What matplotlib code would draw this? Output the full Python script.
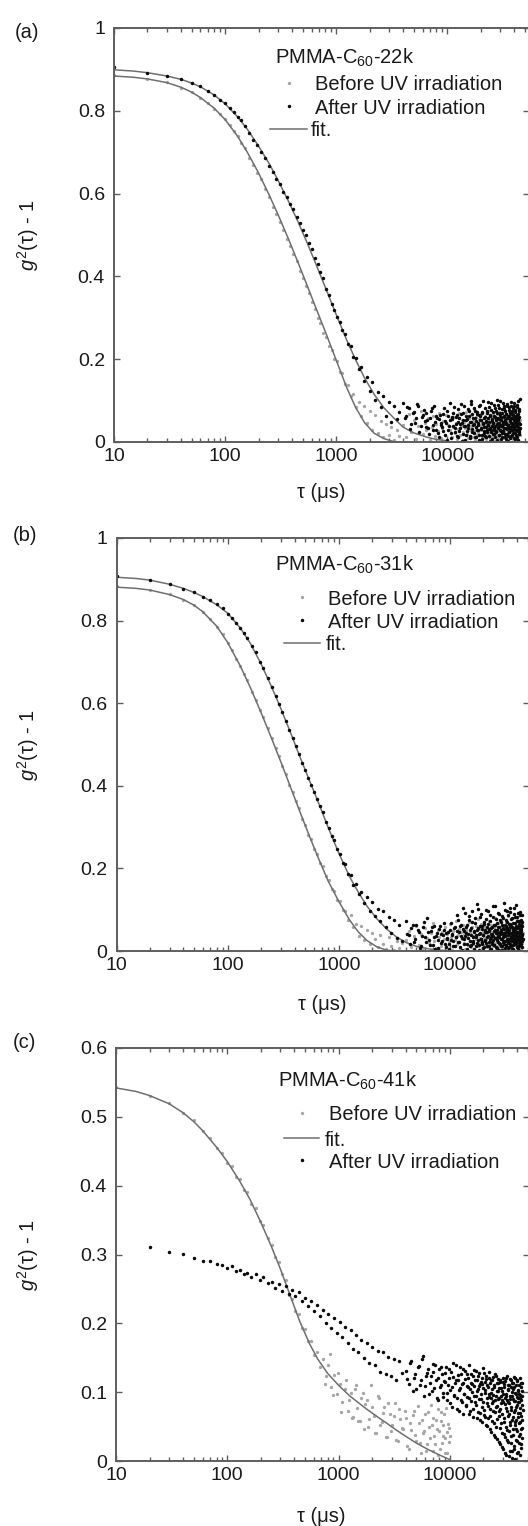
import matplotlib
matplotlib.use('Agg')
import matplotlib.pyplot as plt
from matplotlib.lines import Line2D
from matplotlib.ticker import LogLocator, NullFormatter

plt.rcParams['font.family'] = ['Liberation Sans', 'DejaVu Sans']
plt.rcParams['mathtext.fontset'] = 'custom'
plt.rcParams['mathtext.rm'] = 'Liberation Sans'
plt.rcParams['mathtext.it'] = 'Liberation Sans:italic'

# ---------------- data (delay time in microseconds, g2-1 in thousandths) -------------
TAU_SHORT = [10, 20, 30, 40, 50, 60, 70, 80, 90, 100,
             110, 120, 130, 140, 150, 165, 180, 195, 210, 230,
             250, 270, 290, 310, 335, 360, 385, 410, 440, 470,
             500, 530, 565, 600, 640, 680, 720, 765, 810, 860,
             910, 965, 1020, 1080, 1140, 1210, 1280, 1350, 1430, 1510,
             1600, 1690, 1790, 1890, 2000, 2120, 2240, 2370, 2510, 2650,
             2800, 2960, 3130, 3310, 3500, 3700]
TAU_LONG = [4000, 4250, 4500, 4750, 5000, 5250, 5500, 5750, 6000, 6250,
            6500, 6750, 7000, 7250, 7500, 7750, 8000, 8250, 8500, 8750,
            9000, 9250, 9500, 9750, 10000, 10250, 10500, 10750, 11000, 11250,
            11500, 11750, 12000, 12250, 12500, 12750, 13000, 13250, 13500, 13750,
            14000, 14250, 14500, 14750, 15000, 15250, 15500, 15750, 16000, 16250,
            16500, 16750, 17000, 17250, 17500, 17750, 18000, 18250, 18500, 18750,
            19000, 19250, 19500, 19750, 20000, 20250, 20500, 20750, 21000, 21250,
            21500, 21750, 22000, 22250, 22500, 22750, 23000, 23250, 23500, 23750,
            24000, 24250, 24500, 24750, 25000, 25250, 25500, 25750, 26000, 26250,
            26500, 26750, 27000, 27250, 27500, 27750, 28000, 28250, 28500, 28750,
            29000, 29250, 29500, 29750, 30000, 30250, 30500, 30750, 31000, 31250,
            31500, 31750, 32000, 32250, 32500, 32750, 33000, 33250, 33500, 33750,
            34000, 34250, 34500, 34750, 35000, 35250, 35500, 35750, 36000, 36250,
            36500, 36750, 37000, 37250, 37500, 37750, 38000, 38250, 38500, 38750,
            39000, 39250, 39500, 39750, 40000, 40250, 40500, 40750, 41000, 41250,
            41500, 41750, 42000, 42250, 42500, 42750, 43000, 43250, 43500, 43750,
            44000, 44250, 44500, 44750, 45000]
TAU_LONG2 = [4125, 4375, 4625, 4875, 5125, 5375, 5625, 5875, 6125, 6375,
             6625, 6875, 7125, 7375, 7625, 7875, 8125, 8375, 8625, 8875,
             9125, 9375, 9625, 9875, 10125, 10375, 10625, 10875, 11125, 11375,
             11625, 11875, 12125, 12375, 12625, 12875, 13125, 13375, 13625, 13875,
             14125, 14375, 14625, 14875, 15125, 15375, 15625, 15875, 16125, 16375,
             16625, 16875, 17125, 17375, 17625, 17875, 18125, 18375, 18625, 18875,
             19125, 19375, 19625, 19875, 20125, 20375, 20625, 20875, 21125, 21375,
             21625, 21875, 22125, 22375, 22625, 22875, 23125, 23375, 23625, 23875,
             24125, 24375, 24625, 24875, 25125, 25375, 25625, 25875, 26125, 26375,
             26625, 26875, 27125, 27375, 27625, 27875, 28125, 28375, 28625, 28875,
             29125, 29375, 29625, 29875, 30125, 30375, 30625, 30875, 31125, 31375,
             31625, 31875, 32125, 32375, 32625, 32875, 33125, 33375, 33625, 33875,
             34125, 34375, 34625, 34875, 35125, 35375, 35625, 35875, 36125, 36375,
             36625, 36875, 37125, 37375, 37625, 37875, 38125, 38375, 38625, 38875,
             39125, 39375, 39625, 39875, 40125, 40375, 40625, 40875, 41125, 41375,
             41625, 41875, 42125, 42375, 42625, 42875, 43125, 43375, 43625, 43875,
             44125, 44375, 44625, 44875]
TAU_CLOUD = [750, 830, 900, 990, 1060, 1170, 1250, 1320, 1400, 1470,
             1560, 1650, 1740, 1840, 1950, 2060, 2180, 2300, 2440, 2580,
             2730, 2880, 3050, 3220, 3400, 3600, 3800, 3950, 4120, 4380,
             4620, 4860, 5120, 5380, 5640, 5880, 6120, 6380, 6620, 6880,
             7120, 7380, 7620, 7880, 8120, 8380, 8620, 8880, 9120, 9380,
             9620, 9880]

# (a) PMMA-C60-22k
A_BEFORE_SHORT = [886, 877, 869, 856, 846, 831, 819, 804, 793, 779,
                  766, 750, 739, 722, 710, 687, 670, 650, 635, 611,
                  591, 568, 550, 531, 512, 491, 474, 455, 436, 414,
                  397, 376, 359, 337, 321, 299, 287, 264, 254, 231,
                  222, 201, 195, 170, 166, 141, 138, 112, 115, 84,
                  96, 62, 88, 47, 74, 30, 66, 22, 51, 12,
                  43, 18, 37, 6, 29, 14]
A_BEFORE_LONG = [42, 11, 67, 25, 53, 8, 38, 74, 19, 47,
                 30, 58, 5, 36, 62, 14, 44, 27, 71, 9,
                 33, 50, 18, 65, 3, 41, 28, 56, 12, 37,
                 60, 22, 45, 7, 31, 69, 16, 39, 52, 24,
                 4, 48, 35, 73, 20, 43, 10, 57, 29, 66,
                 38, 13, 51, 26, 79, 6, 34, 61, 17, 46,
                 23, 55, 2, 40, 68, 30, 49, 15, 37, 58,
                 11, 63, 27, 44, 8, 52, 33, 76, 19, 41,
                 54, 25, 9, 47, 36, 64, 14, 39, 70, 21,
                 45, 3, 59, 31, 18, 50, 28, 67, 12, 42,
                 26, 72, 35, 6, 53, 40, 16, 61, 32, 48,
                 10, 37, 57, 22, 44, 84, 29, 13, 51, 34,
                 65, 20, 41, 5, 58, 36, 27, 49, 74, 15,
                 39, 62, 24, 46, 9, 55, 31, 70, 18, 43,
                 28, 7, 52, 37, 66, 21, 45, 13, 60, 33,
                 50, 26, 78, 14, 40, 57, 4, 35, 47, 23,
                 61, 30, 44, 17, 53]
A_AFTER_SHORT = [906, 892, 885, 877, 868, 860, 848, 839, 827, 819,
                 807, 798, 786, 777, 763, 747, 730, 717, 700, 686,
                 667, 653, 635, 622, 605, 592, 575, 564, 544, 529,
                 513, 499, 480, 466, 444, 430, 411, 395, 370, 355,
                 333, 320, 302, 291, 270, 260, 236, 231, 205, 203,
                 176, 180, 148, 157, 124, 145, 102, 121, 84, 112,
                 62, 97, 48, 88, 55, 73]
A_AFTER_LONG = [95, 62, 81, 44, 73, 58, 88, 39, 66, 51,
                70, 34, 57, 82, 28, 49, 63, 21, 55, 41,
                36, 68, 17, 47, 74, 30, 52, 9, 61, 38,
                85, 24, 43, 66, 12, 57, 33, 92, 46, 19,
                71, 38, 5, 54, 27, 80, 41, 63, 15, 49,
                98, 32, 58, 22, 44, 76, 11, 51, 67, 29,
                40, 87, 18, 62, 35, 53, 7, 72, 45, 26,
                59, 14, 83, 37, 50, 23, 69, 42, 96, 31,
                48, 3, 64, 28, 77, 39, 56, 20, 45, 89,
                34, 61, 13, 52, 74, 25, 43, 102, 37, 58,
                16, 47, 81, 30, 65, 8, 54, 39, 71, 22,
                93, 44, 27, 60, 35, 79, 12, 50, 68, 33,
                46, 88, 19, 57, 41, 2, 63, 36, 84, 25,
                53, 70, 31, 45, 97, 15, 59, 38, 74, 28,
                42, 65, 10, 55, 86, 34, 48, 21, 77, 40,
                62, 18, 51, 90, 29, 44, 67, 6, 56, 37,
                80, 24, 47, 105, 33]
A_AFTER_LONG2 = [58, 84, 31, 69, 47, 92, 25, 61, 78, 36,
                 53, 19, 74, 42, 88, 30, 57, 12, 66, 45,
                 27, 81, 50, 6, 63, 38, 95, 22, 55, 71,
                 34, 60, 15, 48, 79, 26, 44, 68, 3, 52,
                 87, 39, 64, 18, 56, 33, 75, 9, 49, 91,
                 24, 67, 41, 83, 13, 59, 36, 72, 28, 46,
                 65, 5, 54, 89, 32, 70, 17, 43, 100, 37,
                 21, 61, 48, 11, 76, 29, 57, 40, 85, 14,
                 66, 35, 94, 23, 51, 7, 73, 45, 30, 62,
                 19, 82, 39, 58, 26, 69, 4, 47, 90, 33,
                 55, 16, 71, 42, 99, 27, 60, 38, 12, 79,
                 49, 24, 64, 35, 86, 20, 53, 75, 8, 44,
                 68, 31, 92, 15, 57, 40, 77, 25, 63, 50,
                 10, 73, 36, 58, 29, 88, 46, 18, 67, 41,
                 81, 22, 54, 95, 34, 61, 7, 48, 72, 28,
                 56, 38, 85, 13, 65, 44, 27, 98, 52, 30,
                 74, 20, 60, 43]

# (b) PMMA-C60-31k
B_BEFORE_SHORT = [883, 873, 864, 850, 838, 820, 805, 785, 768, 746,
                  729, 707, 691, 671, 656, 628, 608, 583, 566, 539,
                  515, 492, 471, 448, 429, 401, 385, 362, 346, 320,
                  306, 282, 271, 247, 235, 212, 205, 181, 172, 150,
                  145, 124, 122, 99, 98, 76, 86, 58, 65, 37,
                  60, 26, 51, 17, 44, 30, 9, 38, 18, 5,
                  33, 12, 3, 25, 8, 19]
B_BEFORE_LONG = [26, 48, 9, 37, 61, 15, 42, 3, 55, 31,
                 19, 44, 68, 24, 7, 52, 35, 13, 47, 29,
                 58, 11, 40, 22, 65, 34, 2, 49, 27, 73,
                 16, 38, 54, 8, 45, 30, 62, 20, 41, 5,
                 51, 33, 14, 70, 25, 43, 10, 57, 36, 18,
                 46, 1, 60, 28, 39, 77, 12, 53, 32, 21,
                 66, 40, 7, 48, 24, 35, 59, 15, 44, 30,
                 9, 55, 37, 72, 18, 50, 26, 4, 63, 39,
                 29, 47, 13, 58, 34, 81, 20, 43, 6, 52,
                 38, 23, 69, 11, 45, 31, 56, 17, 75, 28,
                 42, 8, 53, 36, 64, 19, 48, 3, 40, 60,
                 25, 71, 14, 46, 33, 57, 10, 39, 84, 22,
                 50, 35, 6, 62, 27, 44, 18, 66, 31, 12,
                 54, 40, 79, 23, 47, 2, 59, 37, 15, 68,
                 32, 49, 20, 43, 74, 9, 56, 28, 45, 16,
                 61, 36, 11, 52, 24, 70, 41, 5, 48, 30,
                 57, 19, 65, 34, 43]
B_AFTER_SHORT = [909, 898, 889, 877, 869, 857, 850, 839, 830, 817,
                 807, 793, 783, 769, 759, 739, 723, 700, 685, 660,
                 639, 617, 598, 578, 558, 534, 516, 497, 476, 454,
                 439, 420, 403, 384, 368, 350, 336, 312, 298, 278,
                 268, 246, 236, 214, 210, 186, 183, 161, 163, 138,
                 144, 117, 131, 98, 118, 84, 101, 72, 96, 58,
                 83, 44, 76, 31, 64, 25]
B_AFTER_LONG = [72, 38, 55, 21, 64, 45, 12, 58, 33, 80,
                27, 49, 15, 61, 36, 7, 53, 42, 24, 67,
                18, 44, 30, 4, 51, 26, 39, 13, 57, 35,
                88, 22, 46, 9, 62, 31, 105, 17, 48, 37,
                59, 6, 41, 74, 25, 52, 14, 96, 34, 20,
                47, 69, 11, 38, 113, 27, 55, 3, 43, 82,
                30, 16, 60, 39, 8, 71, 24, 50, 99, 19,
                45, 33, 65, 12, 54, 28, 86, 40, 5, 57,
                23, 108, 36, 48, 15, 63, 31, 78, 10, 44,
                52, 26, 92, 37, 2, 58, 41, 18, 70, 29,
                47, 11, 85, 34, 55, 21, 116, 43, 7, 62,
                38, 25, 74, 14, 50, 97, 30, 46, 19, 66,
                9, 42, 57, 28, 103, 35, 13, 61, 40, 24,
                79, 48, 6, 53, 32, 90, 17, 45, 68, 27,
                39, 111, 22, 56, 12, 47, 83, 30, 4, 59,
                36, 72, 20, 44, 95, 15, 51, 33, 64, 26,
                48, 10, 87, 41, 29]
B_AFTER_LONG2 = [41, 18, 63, 29, 50, 8, 36, 71, 22, 47,
                 14, 58, 33, 5, 44, 26, 61, 19, 38, 52,
                 9, 31, 46, 16, 68, 40, 24, 55, 12, 35,
                 49, 75, 21, 60, 37, 2, 53, 28, 92, 43,
                 17, 64, 32, 85, 11, 56, 39, 70, 25, 48,
                 6, 79, 34, 51, 20, 102, 42, 15, 61, 30,
                 89, 23, 54, 38, 10, 66, 45, 27, 77, 13,
                 59, 36, 97, 21, 48, 4, 72, 33, 55, 18,
                 40, 83, 26, 63, 14, 50, 109, 31, 44, 7,
                 68, 22, 57, 35, 90, 19, 46, 74, 11, 52,
                 29, 62, 3, 41, 81, 25, 53, 16, 99, 37,
                 60, 12, 47, 71, 30, 56, 8, 86, 39, 24,
                 51, 94, 18, 65, 33, 44, 78, 6, 58, 27,
                 42, 15, 69, 36, 104, 23, 55, 31, 82, 48,
                 20, 60, 38, 9, 73, 45, 26, 93, 34, 57,
                 13, 66, 43, 87, 22, 50, 30, 76, 17, 54,
                 39, 70, 24, 61]

# (c) PMMA-C60-41k
C_BEFORE_SHORT = [544, 530, 520, 505, 495, 479, 469, 455, 448, 433,
                  428, 413, 409, 394, 391, 374, 367, 349, 343, 324,
                  314, 296, 289, 271, 263, 241, 236, 218, 213, 193,
                  192, 175, 174, 154, 158, 136, 148, 124, 139, 108,
                  125, 98, 112, 86, 104, 72, 99, 64, 110, 58,
                  92, 47, 88, 61, 79, 40, 95, 52, 70, 35,
                  84, 44, 66, 30, 75, 48]
C_BEFORE_LONG = [62, 18, 45, 73, 29, 55, 11, 40, 68, 24,
                 50, 82, 15, 37, 59, 8, 44, 71, 26, 53,
                 33, 77, 12, 48, 36]
C_BEFORE_CLOUD = [112, 155, 96, 128, 71, 118, 89, 62, 104, 77,
                  58, 99, 83, 49, 110, 66, 41, 91, 57, 78,
                  35, 69, 52, 84, 29, 61, 46, 73, 22, 55,
                  67, 38, 80, 26, 59, 44, 15, 71, 33, 52,
                  63, 24, 47, 76, 18, 58, 36, 69, 11, 42,
                  54, 28]
C_AFTER_SHORT = [311, 304, 301, 295, 291, 290, 286, 285, 281,
                 283, 276, 278, 271, 273, 268, 271, 263, 267, 258,
                 260, 252, 257, 247, 254, 242, 249, 240, 246, 233,
                 237, 225, 233, 218, 226, 210, 220, 201, 214, 193,
                 208, 186, 202, 180, 195, 171, 190, 163, 183, 158,
                 176, 150, 172, 142, 166, 139, 160, 130, 158, 126,
                 151, 124, 148, 118, 145, 128]
C_AFTER_LONG = [131, 112, 146, 120, 104, 138, 117, 152, 109, 128,
                97, 123, 141, 106, 118, 89, 134, 111, 126, 93,
                115, 137, 99, 121, 84, 130, 108, 142, 95, 117,
                76, 125, 103, 136, 88, 112, 69, 133, 98, 119,
                81, 127, 107, 92, 139, 73, 114, 100, 124, 64,
                109, 86, 131, 95, 118, 71, 104, 128, 59, 112,
                90, 121, 78, 106, 135, 67, 99, 115, 52, 124,
                84, 110, 63, 97, 129, 75, 46, 118, 92, 104,
                58, 122, 87, 38, 108, 71, 126, 95, 49, 113,
                80, 32, 101, 119, 66, 91, 24, 115, 76, 55,
                106, 41, 88, 120, 17, 97, 62, 112, 35, 83,
                116, 50, 9, 94, 72, 123, 28, 86, 105, 43,
                68, 111, 14, 90, 57, 118, 36, 79, 100, 4,
                95, 47, 114, 64, 22, 87, 108, 53, 74, 120,
                31, 98, 60, 82, 11, 117, 44, 92, 70, 103,
                26, 85, 110, 56, 39, 96, 77, 19, 113, 66,
                89, 48, 102, 33, 74]
C_AFTER_LONG2 = [119, 143, 101, 127, 136, 110, 148, 95, 124, 133,
                 114, 102, 129, 140, 92, 121, 107, 137, 99, 116,
                 128, 88, 110, 134, 103, 79, 122, 96, 113, 140,
                 91, 118, 72, 106, 127, 85, 114, 98, 131, 80,
                 109, 93, 120, 68, 104, 126, 87, 112, 76, 132,
                 95, 117, 82, 101, 62, 123, 90, 109, 70, 115,
                 98, 57, 112, 86, 128, 74, 103, 64, 119, 91,
                 51, 107, 80, 121, 93, 66, 113, 42, 99, 84,
                 117, 72, 96, 55, 110, 88, 35, 124, 79, 102,
                 61, 114, 90, 27, 106, 73, 118, 48, 95, 84,
                 20, 101, 69, 115, 86, 39, 108, 57, 92, 12,
                 98, 77, 121, 45, 89, 30, 111, 66, 103, 7,
                 84, 119, 52, 95, 26, 107, 74, 15, 113, 60,
                 90, 38, 105, 71, 122, 18, 87, 56, 99, 3,
                 78, 110, 46, 93, 29, 116, 64, 85, 13, 102,
                 55, 97, 36, 120, 70, 8, 91, 47, 108, 24,
                 82, 113, 59, 94]

# fitted curves
FIT_TAU = [10, 15, 20, 30, 40, 50, 60, 80, 100, 130, 160, 200, 250, 300, 370, 450,
           550, 650, 800, 1000, 1250, 1500, 1800, 2200, 2700, 3300, 4000, 5000, 6500,
           8000, 10000]
A_BEFORE_FIT = [884, 881, 877, 868, 857, 845, 832, 806, 779, 738, 698, 650, 596, 549,
                492, 436, 377, 327, 266, 198, 130, 83, 47, 21, 8, 1]
A_AFTER_FIT = [899, 896, 892, 884, 876, 867, 858, 838, 817, 785, 754, 715, 672, 632,
               583, 534, 480, 433, 373, 308, 245, 198, 155, 115, 82, 58, 36, 22, 12, 6, 3]
B_BEFORE_FIT = [881, 878, 874, 863, 851, 837, 821, 786, 747, 690, 638, 577, 513, 459,
                395, 335, 275, 227, 170, 120, 75, 46, 25, 10, 2, 0]
B_AFTER_FIT = [905, 902, 898, 888, 878, 868, 858, 838, 818, 782, 745, 695, 638, 588,
               527, 468, 410, 362, 300, 237, 180, 142, 108, 78, 53, 34, 21, 11, 5, 2, 1]
C_BEFORE_FIT = [542, 537, 531, 519, 506, 493, 480, 456, 435, 406, 380, 347, 311, 279,
                239, 202, 170, 148, 127, 110, 95, 85, 75, 65, 55, 45, 36, 26, 16, 9, 2]

TITLES = ['PMMA-C$_{60}$-22k', 'PMMA-C$_{60}$-31k', 'PMMA-C$_{60}$-41k']
PANEL_LABELS = ['(a)', '(b)', '(c)']
LBL_BEFORE = 'Before UV irradiation'
LBL_AFTER = 'After UV irradiation'
LBL_FIT = 'fit.'
YT_AB = [0, 0.2, 0.4, 0.6, 0.8, 1.0]
YTL_AB = ['0', '0.2', '0.4', '0.6', '0.8', '1']
YT_C = [0, 0.1, 0.2, 0.3, 0.4, 0.5, 0.6]
YTL_C = ['0', '0.1', '0.2', '0.3', '0.4', '0.5', '0.6']
XT = [10, 100, 1000, 10000]
XTL = ['10', '100', '1000', '10000']


def k(v):
    return [x / 1000 for x in v]


# ---------------- figure ----------------
W, H, DPI = 528, 1526, 100
fig = plt.figure(figsize=(W / DPI, H / DPI), dpi=DPI)


def fx(p):
    return p / W


def fy(p):
    return 1 - p / H


GREY = '#a6a6a6'
BLACK = '#0a0a0a'
FITC = '#6f6f6f'
SPC = '#5e5e5e'
TXT = '#1a1a1a'
MS_G = 2.4
MS_K = 2.5
FS = 14.5
FS_PX = FS * DPI / 72


def make_axes(l, r, t, b, xmax, ylim, yt, ytl):
    ax = fig.add_axes([fx(l), fy(b), fx(r - l), (b - t) / H])
    ax.set_xscale('log')
    ax.set_xlim(10, xmax)
    ax.set_ylim(*ylim)
    ax.set_xticks(XT)
    ax.set_xticklabels(XTL)
    ax.xaxis.set_minor_locator(LogLocator(base=10, subs=[2, 3, 4, 5, 6, 7, 8, 9]))
    ax.xaxis.set_minor_formatter(NullFormatter())
    ax.set_yticks(yt)
    ax.set_yticklabels(ytl)
    for s in ax.spines.values():
        s.set_color(SPC)
        s.set_linewidth(1.4)
    ax.tick_params(which='both', direction='in', top=True, right=True, color=SPC,
                   width=1.0, labelsize=14, labelcolor=TXT)
    ax.tick_params(which='major', length=4.5)
    ax.tick_params(which='minor', length=3)
    ax.tick_params(axis='x', which='major', pad=4)
    ax.tick_params(axis='y', which='major', pad=6.5)
    return ax


def dots(ax, x, y, color, ms):
    ax.plot(x, y, ls='none', marker='o', ms=ms, mfc=color, mec='none')


def entry(handle, label, xpx, ypx, hl_px, pad_px):
    fig.legend([handle], [label], loc='center left',
               bbox_to_anchor=(fx(xpx), fy(ypx)), frameon=False, fontsize=FS,
               handlelength=hl_px / FS_PX, handletextpad=pad_px / FS_PX,
               borderpad=0, borderaxespad=0, labelcolor=TXT)


H_BEFORE = Line2D([], [], ls='none', marker='o', ms=MS_G, mfc=GREY, mec='none')
H_AFTER = Line2D([], [], ls='none', marker='o', ms=MS_K, mfc=BLACK, mec='none')
H_FIT = Line2D([], [], color=FITC, lw=1.1)

# panel (a)
ax = make_axes(114, 528.6, 28, 442, 54000, (0, 1), YT_AB, YTL_AB)
dots(ax, TAU_SHORT + TAU_LONG, k(A_BEFORE_SHORT + A_BEFORE_LONG), GREY, MS_G)
ax.plot(FIT_TAU[:len(A_BEFORE_FIT)], k(A_BEFORE_FIT), color=FITC, lw=1.1)
ax.plot(FIT_TAU[:len(A_AFTER_FIT)], k(A_AFTER_FIT), color=FITC, lw=1.1)
dots(ax, TAU_SHORT + TAU_LONG + TAU_LONG2,
     k(A_AFTER_SHORT + A_AFTER_LONG + A_AFTER_LONG2), BLACK, MS_K)
fig.text(fx(275), fy(64), TITLES[0], fontsize=FS, color=TXT, va='baseline', ha='left')
entry(H_BEFORE, LBL_BEFORE, 270, 85, 37, 8)
entry(H_AFTER, LBL_AFTER, 270, 108, 37, 8)
entry(H_FIT, LBL_FIT, 270, 131, 37, 4)
fig.text(fx(15), fy(32), PANEL_LABELS[0], fontsize=FS, color=TXT, va='center', ha='left')
fig.text(fx(28), fy(235), r'$g^2$(τ) - 1', fontsize=FS, color=TXT, rotation=90,
         va='center', ha='center')
fig.text(fx(321), fy(492), 'τ (μs)', fontsize=FS, color=TXT, va='center', ha='center')

# panel (b)
ax = make_axes(116.5, 528.6, 538, 951, 51000, (0, 1), YT_AB, YTL_AB)
dots(ax, TAU_SHORT + TAU_LONG, k(B_BEFORE_SHORT + B_BEFORE_LONG), GREY, MS_G)
ax.plot(FIT_TAU[:len(B_BEFORE_FIT)], k(B_BEFORE_FIT), color=FITC, lw=1.1)
ax.plot(FIT_TAU[:len(B_AFTER_FIT)], k(B_AFTER_FIT), color=FITC, lw=1.1)
dots(ax, TAU_SHORT + TAU_LONG + TAU_LONG2,
     k(B_AFTER_SHORT + B_AFTER_LONG + B_AFTER_LONG2), BLACK, MS_K)
fig.text(fx(275), fy(571), TITLES[1], fontsize=FS, color=TXT, va='baseline', ha='left')
entry(H_BEFORE, LBL_BEFORE, 284, 599, 36, 8)
entry(H_AFTER, LBL_AFTER, 284, 622, 36, 8)
entry(H_FIT, LBL_FIT, 284, 645, 36, 6)
fig.text(fx(13), fy(536), PANEL_LABELS[1], fontsize=FS, color=TXT, va='center', ha='left')
fig.text(fx(28), fy(745), r'$g^2$(τ) - 1', fontsize=FS, color=TXT, rotation=90,
         va='center', ha='center')
fig.text(fx(322), fy(1005), 'τ (μs)', fontsize=FS, color=TXT, va='center', ha='center')

# panel (c)
ax = make_axes(116, 528.6, 1048, 1461, 51000, (0, 0.6), YT_C, YTL_C)
dots(ax, TAU_SHORT + TAU_LONG[:len(C_BEFORE_LONG)] + TAU_CLOUD,
     k(C_BEFORE_SHORT + C_BEFORE_LONG + C_BEFORE_CLOUD), GREY, MS_G)
ax.plot(FIT_TAU[:len(C_BEFORE_FIT)], k(C_BEFORE_FIT), color=FITC, lw=1.1)
dots(ax, TAU_SHORT[1:] + TAU_LONG + TAU_LONG2,
     k(C_AFTER_SHORT + C_AFTER_LONG + C_AFTER_LONG2), BLACK, MS_K)
fig.text(fx(278), fy(1087), TITLES[2], fontsize=FS, color=TXT, va='baseline', ha='left')
entry(H_BEFORE, LBL_BEFORE, 284, 1115, 35, 10)
entry(H_FIT, LBL_FIT, 284, 1140, 35, 6)
entry(H_AFTER, LBL_AFTER, 284, 1162, 35, 10)
fig.text(fx(13), fy(1042), PANEL_LABELS[2], fontsize=FS, color=TXT, va='center', ha='left')
fig.text(fx(28), fy(1255), r'$g^2$(τ) - 1', fontsize=FS, color=TXT, rotation=90,
         va='center', ha='center')
fig.text(fx(321), fy(1516), 'τ (μs)', fontsize=FS, color=TXT, va='center', ha='center')

fig.savefig('out.png', dpi=DPI)
